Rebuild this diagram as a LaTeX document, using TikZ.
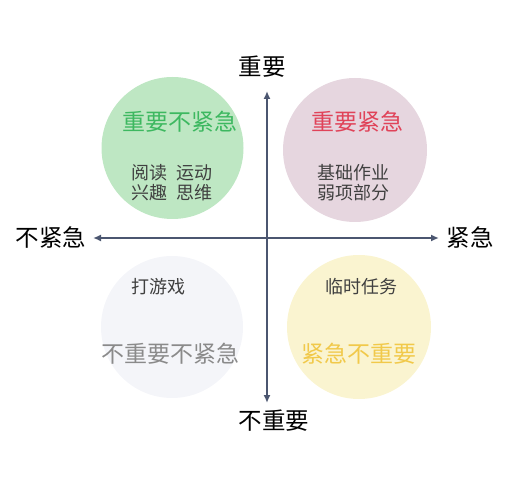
\documentclass[tikz,border=0pt]{standalone}
\usepackage{fontspec}
\setmainfont{Noto Sans CJK SC}
\usetikzlibrary{arrows.meta}
\definecolor{axiscol}{HTML}{4B5670}
\definecolor{gfill}{HTML}{BEE7C3}
\definecolor{pfill}{HTML}{E6D6DF}
\definecolor{wfill}{HTML}{F4F5F9}
\definecolor{yfill}{HTML}{FAF4D0}
\definecolor{gtext}{HTML}{3DB860}
\definecolor{ptext}{HTML}{E04359}
\definecolor{wtext}{HTML}{8A8A8A}
\definecolor{ytext}{HTML}{F1C94A}
\definecolor{btext}{HTML}{404040}
\tikzset{
  axis/.style={line width=2.2pt, axiscol, {Latex[length=8pt,width=7pt]}-{Latex[length=8pt,width=7pt]}},
  title/.style={font=\fontsize{23}{26}\selectfont, inner sep=0pt},
  body/.style={font=\fontsize{18}{19.5}\selectfont, text=btext, inner sep=0pt, align=center},
  dir/.style={font=\fontsize{23.5}{26}\selectfont, text=black, inner sep=0pt}
}

\begin{document}
\begin{tikzpicture}[x=1pt,y=-1pt]
            \useasboundingbox (0,0) rectangle (522,478);
            % circles
            \fill[gfill] (172.5,148) circle (71);
            \fill[pfill] (355,150) circle (72);
            \fill[wfill] (172,327) circle (71);
            \fill[yfill] (359,327) circle (72);
            % axes
            \coordinate (W) at (93,238);
            \coordinate (E) at (439,238);
            \coordinate (N) at (267,91);
            \coordinate (S) at (267,403);
            \draw[axis] (W)--(E);
            \draw[axis] (S)--(N);
            \node[dir] (up) at (262,67) {重要};
            \node[dir] (down) at (274,421) {不重要};
            \node[dir] (left) at (51,238) {不紧急};
            \node[dir] (right) at (470,238) {紧急};
            % quadrants
            \node[title,text=gtext] (q2) at (180,122) {重要不紧急};
            \node[body] (q2b) at (172,182.5) {阅读\ \ 运动\\兴趣\ \ 思维};
            \node[title,text=ptext] (q1) at (357,122) {重要紧急};
            \node[body] (q1b) at (353,182.5) {基础作业\\弱项部分};
            \node[body] (q3b) at (158,287) {打游戏};
            \node[title,text=wtext] (q3) at (170,354) {不重要不紧急};
            \node[body] (q4b) at (361,287) {临时任务};
            \node[title,text=ytext] (q4) at (359,354) {紧急不重要};
        \end{tikzpicture}
\end{document}
